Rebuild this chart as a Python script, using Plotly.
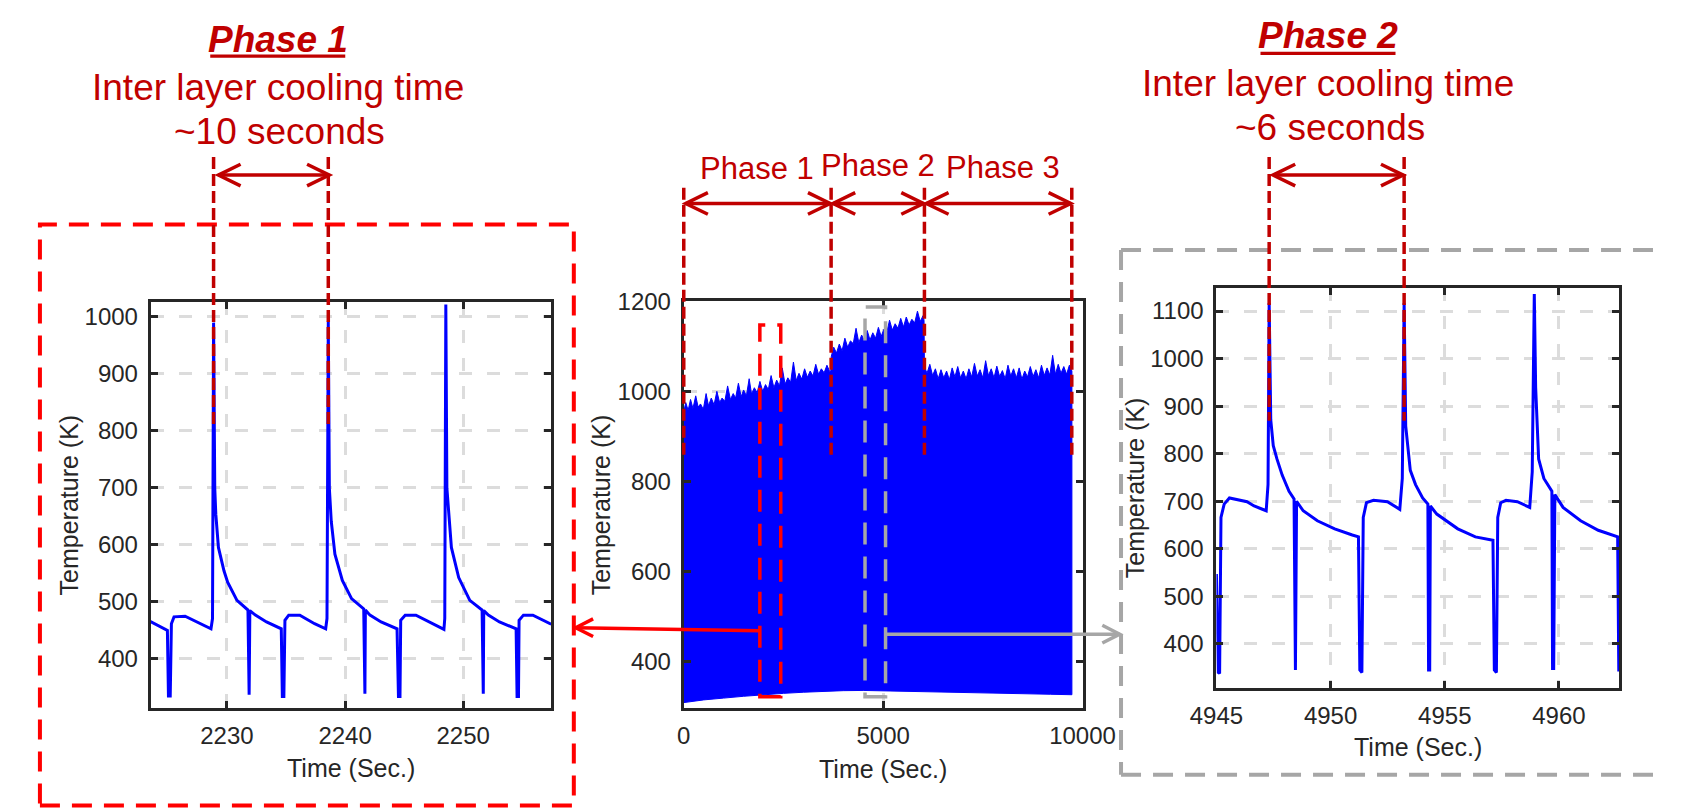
import plotly.graph_objects as go

W, H = 1686, 809

# ---------------- DATA ----------------
# Left zoom panel (Phase 1 detail)
t_left = [2223.49, 2224.96, 2225.05, 2225.20, 2225.30, 2225.52, 2226.46, 2227.72, 2228.65, 2228.78,
          2228.87, 2228.97, 2229.06, 2229.28, 2229.75, 2230.06, 2230.85, 2231.78, 2231.83, 2231.88,
          2231.94, 2232.41, 2233.35, 2234.60, 2234.69, 2234.82, 2234.91, 2235.23, 2236.17, 2237.42,
          2238.36, 2238.47, 2238.58, 2238.67, 2238.83, 2239.14, 2239.77, 2240.55, 2241.58, 2241.63,
          2241.68, 2241.72, 2242.11, 2243.05, 2244.40, 2244.52, 2244.65, 2244.71, 2245.09, 2246.00,
          2247.10, 2248.37, 2248.44, 2248.53, 2248.62, 2248.80, 2249.00, 2249.62, 2250.56, 2251.60,
          2251.65, 2251.70, 2251.74, 2252.13, 2253.07, 2254.48, 2254.56, 2254.68, 2254.73, 2255.10,
          2255.90, 2257.45]
T_left = [465, 449, 334, 334, 461, 473, 474, 461, 452, 470,
          990, 699, 653, 595, 554, 534, 502, 485, 336, 336,
          484, 476, 464, 452, 333, 333, 467, 476, 476, 461,
          452, 470, 992, 699, 641, 583, 537, 505, 487, 338,
          338, 485, 476, 464, 452, 333, 333, 467, 476, 476,
          464, 451, 470, 1022, 699, 653, 595, 542, 502, 485,
          338, 338, 484, 476, 464, 452, 333, 333, 467, 476,
          476, 460]

# Middle overview panel: upper and lower envelope of the dense signal
t_top = [0, 50, 110, 170, 230, 300, 360, 420, 490, 560, 620, 690, 760, 830, 900, 960, 1030, 1100,
         1170, 1240, 1300, 1370, 1440, 1500, 1570, 1640, 1700, 1770, 1840, 1910, 1980, 2050, 2120,
         2190, 2260, 2330, 2400, 2470, 2540, 2610, 2680, 2750, 2820, 2890, 2960, 3030, 3100, 3170,
         3240, 3310, 3380, 3450, 3520, 3590, 3660, 3690,
         3700, 3760, 3830, 3900, 3970, 4040, 4110, 4180, 4250, 4320, 4390, 4460, 4530, 4600, 4670,
         4740, 4810, 4880, 4950, 5020, 5090, 5160, 5230, 5300, 5370, 5440, 5510, 5580, 5650, 5720,
         5790, 5860, 5930, 6000, 6025,
         6035, 6100, 6170, 6240, 6310, 6380, 6450, 6520, 6590, 6660, 6730, 6800, 6870, 6940, 7010,
         7080, 7150, 7220, 7290, 7360, 7430, 7500, 7570, 7640, 7710, 7780, 7850, 7920, 7990, 8060,
         8130, 8200, 8270, 8340, 8410, 8480, 8550, 8620, 8690, 8760, 8830, 8900, 8970, 9040, 9110,
         9180, 9250, 9320, 9390, 9460, 9530, 9600, 9670, 9733]
T_top = [955, 975, 958, 982, 962, 990, 965, 972, 960, 995, 968, 985, 970, 1000, 975, 985, 978, 1012,
         982, 995, 985, 1018, 988, 1003, 990, 1028, 994, 1008, 997, 1022, 1000, 1015, 1004,
         1035, 1008, 1025, 1012, 1052, 1016, 1030, 1020, 1065, 1024, 1040, 1027, 1050, 1031, 1045,
         1034, 1060, 1038, 1050, 1041, 1058, 1044, 1046,
         1078, 1098, 1085, 1105, 1090, 1118, 1098, 1112, 1106, 1140, 1108, 1125, 1112, 1135, 1114,
         1130, 1118, 1142, 1122, 1138, 1130, 1158, 1136, 1150, 1140, 1162, 1143, 1165, 1147, 1160,
         1152, 1178, 1155, 1168, 1158,
         1055, 1040, 1060, 1035, 1050, 1028, 1048, 1030, 1045, 1026, 1052, 1032, 1055, 1030, 1045,
         1028, 1050, 1032, 1062, 1034, 1048, 1030, 1068, 1035, 1050, 1030, 1056, 1033, 1046, 1028,
         1058, 1034, 1050, 1030, 1052, 1027, 1045, 1032, 1055, 1033, 1048, 1030, 1058, 1035, 1052,
         1036, 1080, 1038, 1060, 1040, 1055, 1038, 1058, 1045]
t_bot = [0, 500, 1000, 1500, 1900, 2500, 3000, 3400, 4000, 4500, 5000, 5400, 6000, 6500, 7000,
         7500, 8000, 8600, 9200, 9733]
T_bot = [309, 315, 319, 323, 326.5, 329.5, 332, 334, 335.5, 336, 335, 334, 333.5, 333, 332.4,
         331, 330, 328.7, 327.5, 326.5]

# Right zoom panel (Phase 2 detail)
t_right = [4945.00, 4945.08, 4945.14, 4945.20, 4945.34, 4945.57, 4946.34, 4946.65, 4947.18, 4947.26,
           4947.31, 4947.38, 4947.49, 4947.65, 4947.88, 4948.18, 4948.40, 4948.43, 4948.46, 4948.51,
           4948.80, 4949.42, 4950.18, 4950.95, 4951.22, 4951.28, 4951.37, 4951.43, 4951.57, 4951.88,
           4952.49, 4953.03, 4953.14, 4953.22, 4953.29, 4953.49, 4953.72, 4954.03, 4954.26, 4954.29,
           4954.34, 4954.37, 4954.65, 4955.57, 4956.34, 4957.11, 4957.17, 4957.26, 4957.32, 4957.45,
           4957.68, 4958.18, 4958.72, 4958.83, 4958.92, 4958.98, 4959.11, 4959.34, 4959.69, 4959.72,
           4959.77, 4959.82, 4960.18, 4960.95, 4961.72, 4962.57, 4962.62]
T_right = [547, 340, 338, 666, 694, 707, 699, 690, 680, 735,
           1117, 871, 817, 789, 755, 721, 705, 345, 345, 700,
           680, 659, 642, 629, 625, 345, 340, 666, 697, 702,
           699, 683, 748, 1117, 858, 765, 735, 707, 694, 345,
           345, 690, 673, 642, 625, 618, 345, 340, 666, 697,
           702, 699, 687, 762, 1136, 939, 789, 748, 721, 348,
           348, 714, 687, 659, 639, 625, 342]

# Annotated quantities
phase_bounds = [0, 3695, 6035, 9730]          # s, boundaries of phases 1-3
phase_names = ["Phase 1", "Phase 2", "Phase 3"]
peaks_left = [2228.87, 2238.58]               # consecutive layer peaks, phase 1
peaks_right = [4947.31, 4953.22]              # consecutive layer peaks, phase 2
zoom_box_1 = [1908, 2432, 322, 1147]          # x0, x1, y0, y1 in overview data
zoom_box_2 = [4545, 5060, 322, 1187]

# ---------------- LAYOUT GEOMETRY ----------------
panels = {
    "L": dict(xpx=(128.3, 543.3), ypx=(292.7, 706.7), xr=(2223.55, 2257.43), yr=(312.0, 1026.9)),
    "M": dict(xpx=(681.0, 1094.5), ypx=(292.3, 706.0), xr=(0, 10000), yr=(297.5, 1200)),
    "R": dict(xpx=(1233.3, 1651.0), ypx=(279.3, 685.6), xr=(4945.0, 4962.64), yr=(307.8, 1147.5)),
}


def px(x):
    return x / W


def py(y):
    return 1 - y / H


def d2p(p, xv=None, yv=None):
    """data -> pixel for panel p"""
    g = panels[p]
    out = []
    if xv is not None:
        out.append(g["xpx"][0] + (xv - g["xr"][0]) / (g["xr"][1] - g["xr"][0]) * (g["xpx"][1] - g["xpx"][0]))
    if yv is not None:
        out.append(g["ypx"][1] - (yv - g["yr"][0]) / (g["yr"][1] - g["yr"][0]) * (g["ypx"][1] - g["ypx"][0]))
    return out[0] if len(out) == 1 else tuple(out)


DARKRED = "#C00000"
RED = "#FF0000"
GREY = "#A6A6A6"
BLUE = "#0000FF"
TXT = "#262626"
FONT = "Liberation Sans, Arial, sans-serif"

fig = go.Figure()

fig.add_trace(go.Scatter(x=t_left, y=T_left, mode="lines", line=dict(color=BLUE, width=3),
                         xaxis="x", yaxis="y", showlegend=False, hoverinfo="skip"))
poly_t = t_top + t_bot[::-1]
poly_T = T_top + T_bot[::-1]
fig.add_trace(go.Scatter(x=poly_t, y=poly_T, mode="lines", fill="toself", fillcolor=BLUE,
                         line=dict(color=BLUE, width=1), xaxis="x2", yaxis="y2",
                         showlegend=False, hoverinfo="skip"))
fig.add_trace(go.Scatter(x=t_right, y=T_right, mode="lines", line=dict(color=BLUE, width=3),
                         xaxis="x3", yaxis="y3", showlegend=False, hoverinfo="skip"))

axis_common = dict(showline=True, linewidth=3, linecolor=TXT, mirror="ticks", ticks="inside",
                   ticklen=7, tickwidth=3, tickcolor=TXT, showgrid=True, gridcolor="#DCDCDC",
                   gridwidth=2.5, griddash="13px,15px", zeroline=False,
                   tickfont=dict(family=FONT, size=24, color=TXT))

ticks = {
    "L": ([2230, 2240, 2250], [400, 500, 600, 700, 800, 900, 1000]),
    "M": ([0, 5000, 10000], [400, 600, 800, 1000, 1200]),
    "R": ([4945, 4950, 4955, 4960], [400, 500, 600, 700, 800, 900, 1000, 1100]),
}
names = {"L": ("xaxis", "yaxis", "y", "x"), "M": ("xaxis2", "yaxis2", "y2", "x2"),
         "R": ("xaxis3", "yaxis3", "y3", "x3")}
lay = {}
for p, g in panels.items():
    xa, ya, anchor_y, anchor_x = names[p]
    xt, yt = ticks[p]
    lay[xa] = dict(axis_common, domain=[px(g["xpx"][0]), px(g["xpx"][1])], range=list(g["xr"]),
                   anchor=anchor_y, tickvals=xt, ticktext=[str(v) for v in xt], ticklabelstandoff=4)
    lay[ya] = dict(axis_common, domain=[py(g["ypx"][1]), py(g["ypx"][0])], range=list(g["yr"]),
                   anchor=anchor_x, tickvals=yt, ticktext=[str(v) for v in yt], ticklabelstandoff=5)

shapes = []
annots = []


def line(x0, y0, x1, y1, color, width, dash="solid"):
    shapes.append(dict(type="line", xref="paper", yref="paper", x0=px(x0), y0=py(y0),
                       x1=px(x1), y1=py(y1), line=dict(color=color, width=width, dash=dash)))


def chevron(xt, yt, direction, color, width, L=23, Hh=11):
    # direction +1: tip pointing right, -1: pointing left
    xb = xt - direction * L
    path = f"M{px(xb)},{py(yt - Hh)} L{px(xt)},{py(yt)} L{px(xb)},{py(yt + Hh)}"
    shapes.append(dict(type="path", xref="paper", yref="paper", path=path,
                       line=dict(color=color, width=width)))


def double_arrow(x0, x1, y, color, width, L=23, Hh=11):
    line(x0, y, x1, y, color, width)
    chevron(x0, y, -1, color, width, L, Hh)
    chevron(x1, y, +1, color, width, L, Hh)


def text(s, x, y, size, color=DARKRED, angle=0):
    annots.append(dict(text=s, xref="paper", yref="paper", x=px(x), y=py(y), xanchor="center",
                       yanchor="middle", showarrow=False, textangle=angle,
                       font=dict(family=FONT, size=size, color=color)))


# zoom frames
RECT_DASH = "20px,12px"
shapes.append(dict(type="rect", xref="paper", yref="paper", x0=px(13.4), x1=px(567.0), y0=py(805.5),
                   y1=py(214.1), line=dict(color=RED, width=4, dash=RECT_DASH)))
# grey frame runs off the right edge of the page: left, top and bottom sides only
line(1134.4, 240.2, 1686, 240.2, GREY, 4, RECT_DASH)
line(1134.4, 774.2, 1686, 774.2, GREY, 4, RECT_DASH)
line(1134.4, 240.2, 1134.4, 774.2, GREY, 4, RECT_DASH)

# boxes in overview
for (bx, c) in [(zoom_box_1, RED), (zoom_box_2, GREY)]:
    shapes.append(dict(type="rect", xref="x2", yref="y2", x0=bx[0], x1=bx[1], y0=bx[2], y1=bx[3],
                       line=dict(color=c, width=3.5, dash="22px,12px")))

VDASH = "12px,5px"
# overview phase markers
mid_x = [d2p("M", xv=b) for b in phase_bounds]
y_low = d2p("M", yv=856.6)
for xm in mid_x:
    line(xm, 176.8, xm, y_low, DARKRED, 3.5, VDASH)
for i in range(3):
    double_arrow(mid_x[i] + 2, mid_x[i + 1] - 1, 192.8, DARKRED, 3.5)
text_y = [157.3, 154.3, 156.0]
for i in range(3):
    text(phase_names[i], (mid_x[i] + mid_x[i + 1]) / 2 + (5 if i == 2 else 0), text_y[i], 31)

# left detail markers
lx = [d2p("L", xv=t) for t in peaks_left]
yl = d2p("L", yv=810.5)
for xv in lx:
    line(xv, 145.5, xv, yl, DARKRED, 3.5, VDASH)
double_arrow(lx[0] + 5, lx[1] + 1, 163.9, DARKRED, 3.5)
text("<b><i>Phase 1</i></b>", 260.5, 25.6, 37)
line(190, 42.8, 330, 42.8, DARKRED, 3.3)
text("Inter layer cooling time", 260.2, 74.8, 37)
text("~10 seconds", 262, 119.3, 37)

# right detail markers
rx = [d2p("R", xv=t) for t in peaks_right]
yr_ = d2p("R", yv=869.4)
for xv in rx:
    line(xv, 145.5, xv, yr_, DARKRED, 3.5, VDASH)
double_arrow(rx[0] + 4, rx[1] - 1, 163.9, DARKRED, 3.5)
text("<b><i>Phase 2</i></b>", 1349, 22.3, 37)
line(1279, 40.1, 1419, 40.1, DARKRED, 3.3)
text("Inter layer cooling time", 1349, 70.8, 37)
text("~6 seconds", 1351, 116, 37)

# connecting arrows
ax0, ay0 = d2p("M", zoom_box_1[0], 468.3)
line(ax0, ay0, 569, 624.5, RED, 3.5)
chevron(569, 624.5, -1, RED, 3.5, 18, 9)
gx0, gy0 = d2p("M", zoom_box_2[1], 461)
line(gx0, gy0, 1133, gy0, GREY, 3.5)
chevron(1133, gy0, +1, GREY, 3.5, 18, 9)

# axis titles
for p, (yx, ylab_x) in {"L": (767, 44), "M": (768.6, 595), "R": (745.8, 1149)}.items():
    g = panels[p]
    cx = (g["xpx"][0] + g["xpx"][1]) / 2
    cy = (g["ypx"][0] + g["ypx"][1]) / 2
    text("Time (Sec.)", cx, yx, 25, TXT)
    text("Temperature (K)", ylab_x, cy, 25, TXT, angle=-90)

fig.update_layout(width=W, height=H, margin=dict(l=0, r=0, t=0, b=0), paper_bgcolor="white",
                  plot_bgcolor="white", shapes=shapes, annotations=annots, showlegend=False,
                  font=dict(family=FONT, color=TXT), **lay)

fig.write_html("out.html")
